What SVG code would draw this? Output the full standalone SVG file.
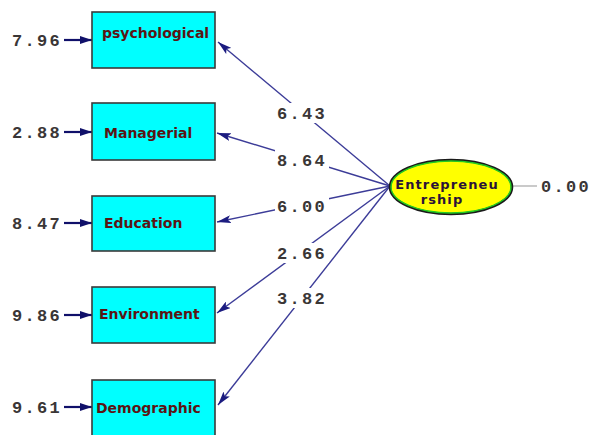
<svg xmlns="http://www.w3.org/2000/svg" width="590" height="435" viewBox="0 0 590 435">
<defs>
<style>
.box{fill:#00ffff;stroke:#3a3a3a;stroke-width:1.6}
.lbl{font-family:"DejaVu Sans",Verdana,sans-serif;font-weight:bold;font-size:14px;fill:#5a1414}
.num{font-family:"Liberation Mono","Courier New",monospace;font-weight:bold;font-size:17px;letter-spacing:2.3px;fill:#3a3636}
.path{stroke:#3c3c98;stroke-width:1.4;fill:none}
.err{stroke:#10106a;stroke-width:2.2;fill:none}
.bg{fill:#ffffff}
.ent{font-family:"DejaVu Sans",Verdana,sans-serif;font-weight:bold;font-size:13px;letter-spacing:1.1px;fill:#2a1238}
</style>
<marker id="ah" viewBox="0 0 14 8" refX="14" refY="4" markerWidth="14" markerHeight="8" markerUnits="userSpaceOnUse" orient="auto">
<path d="M0,0 L14,4 L0,8 L3,4 Z" fill="#1c1c80"/>
</marker>
<marker id="ahe" viewBox="0 0 12 8" refX="12" refY="4" markerWidth="12" markerHeight="8" markerUnits="userSpaceOnUse" orient="auto">
<path d="M0,0 L12,4 L0,8 Z" fill="#10106a"/>
</marker>
</defs>
<rect width="590" height="435" fill="#ffffff"/>
<g id="connectors">
<path class="path" d="M390,186 L218,42" marker-end="url(#ah)"/>
<path class="path" d="M390,186 L217,133" marker-end="url(#ah)"/>
<path class="path" d="M390,186 L217,222" marker-end="url(#ah)"/>
<path class="path" d="M390,186 L217,313" marker-end="url(#ah)"/>
<path class="path" d="M390,186 L218,405" marker-end="url(#ah)"/>
<path class="err" d="M64,40 L92,40" marker-end="url(#ahe)"/>
<path class="err" d="M64,132 L92,132" marker-end="url(#ahe)"/>
<path class="err" d="M64,223 L92,223" marker-end="url(#ahe)"/>
<path class="err" d="M64,315 L92,315" marker-end="url(#ahe)"/>
<path class="err" d="M64,407 L92,407" marker-end="url(#ahe)"/>
<path d="M513,186 L537,186" stroke="#bdbdbd" stroke-width="1.6"/>
<rect class="bg" x="275" y="103" width="54" height="20"/>
<rect class="bg" x="275" y="150" width="54" height="20"/>
<rect class="bg" x="275" y="196" width="54" height="20"/>
<rect class="bg" x="275" y="243" width="54" height="20"/>
<rect class="bg" x="275" y="288" width="54" height="20"/>
<text class="num" x="277" y="119">6.43</text>
<text class="num" x="277" y="166">8.64</text>
<text class="num" x="277" y="212">6.00</text>
<text class="num" x="277" y="259">2.66</text>
<text class="num" x="277" y="304">3.82</text>
<text class="num" x="12" y="46">7.96</text>
<text class="num" x="12" y="138">2.88</text>
<text class="num" x="12" y="229">8.47</text>
<text class="num" x="12" y="321">9.86</text>
<text class="num" x="12" y="413">9.61</text>
<text class="num" x="541" y="192">0.00</text>
</g>
<g id="psychological">
<rect class="box" x="92" y="12" width="123" height="56"/>
<text class="lbl" x="102" y="38">psychological</text>
</g>
<g id="managerial">
<rect class="box" x="92" y="103" width="123" height="57"/>
<text class="lbl" x="104" y="138">Managerial</text>
</g>
<g id="education">
<rect class="box" x="92" y="196" width="123" height="55"/>
<text class="lbl" x="104" y="228">Education</text>
</g>
<g id="environment">
<rect class="box" x="92" y="287" width="123" height="56"/>
<text class="lbl" x="99" y="319">Environment</text>
</g>
<g id="demographic">
<rect class="box" x="92" y="380" width="123" height="60"/>
<text class="lbl" x="96" y="413">Demographic</text>
</g>
<g id="entrepreneurship">
<ellipse cx="451" cy="187" rx="61" ry="27" fill="#ffff00" stroke="#1a1a1a" stroke-width="2.6"/>
<ellipse cx="451" cy="187" rx="60" ry="26" fill="none" stroke="#22cc22" stroke-width="1.4"/>
<text class="ent" x="447" y="189" text-anchor="middle">Entrepreneu</text>
<text class="ent" x="442" y="204" text-anchor="middle">rship</text>
</g>
</svg>
